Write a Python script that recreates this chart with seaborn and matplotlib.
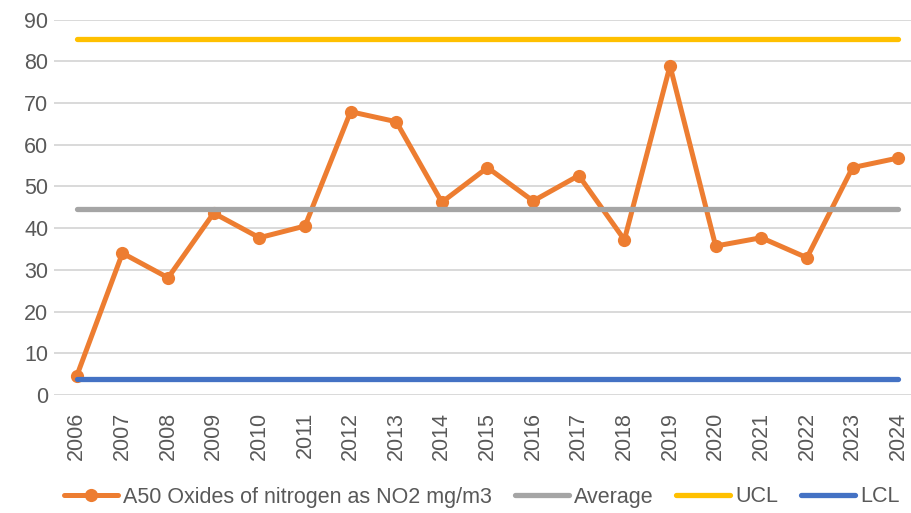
import numpy as np
import pandas as pd
import seaborn as sns
import matplotlib.pyplot as plt

# Values
years = [str(y) for y in range(2006, 2025)]
no2 = [4.6, 34.0, 28.1, 43.6, 37.7, 40.5, 67.9, 65.5, 46.2, 54.5,
       46.5, 52.6, 37.2, 78.9, 35.7, 37.7, 32.9, 54.5, 56.8]
average = 44.6
ucl = 85.4
lcl = 3.9

series_name = 'A50 Oxides of nitrogen as NO2 mg/m3'

sns.set_theme(style='white')
plt.rcParams['font.family'] = ['Liberation Sans', 'DejaVu Sans']

fig = plt.figure(figsize=(9.12, 5.13), dpi=100)
ax = fig.add_axes([54 / 912, 118 / 513, 867 / 912, 375.5 / 513])

df = pd.DataFrame({'year': years, 'value': no2})
x = np.arange(len(years))

sns.lineplot(x=x, y=df['value'], ax=ax, color='#ED7D31', lw=3.6,
             marker='o', markersize=9.5, markeredgewidth=0,
             label=series_name)
sns.lineplot(x=x, y=np.full(len(years), average), ax=ax, color='#A5A5A5',
             lw=3.8, solid_capstyle='round', label='Average')
sns.lineplot(x=x, y=np.full(len(years), ucl), ax=ax, color='#FFC000',
             lw=3.8, solid_capstyle='round', label='UCL')
sns.lineplot(x=x, y=np.full(len(years), lcl), ax=ax, color='#4472C4',
             lw=3.8, solid_capstyle='round', label='LCL')

ax.set_xlim(-0.5, len(years) - 0.5)
ax.set_ylim(0, 90)
ax.set_yticks(range(0, 91, 10))
ax.set_xticks(x)
ax.set_xticklabels(years, rotation=90)
ax.grid(axis='y', color='#D9D9D9', lw=1.4)
ax.set_axisbelow(True)
for s in ax.spines.values():
    s.set_visible(False)
ax.tick_params(axis='both', colors='#595959', labelsize=15.5, length=0)
ax.tick_params(axis='y', pad=4)
ax.tick_params(axis='x', pad=12)
ax.set_xlabel('')
ax.set_ylabel('')

leg = ax.legend(loc='center', bbox_to_anchor=(482 / 912, 16 / 513),
                bbox_transform=fig.transFigure, ncol=4, frameon=False,
                fontsize=15.5, handlelength=2.5, handletextpad=0.25,
                columnspacing=1.05)
for t in leg.get_texts():
    t.set_color('#595959')

fig.savefig('out.png', dpi=100)
